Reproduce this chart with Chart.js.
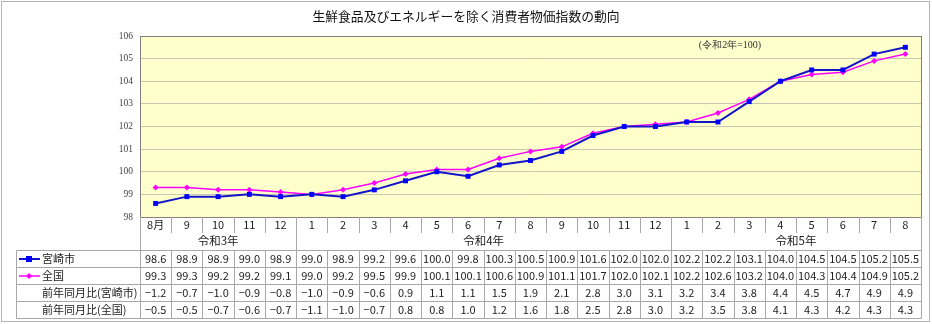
<!DOCTYPE html>
<html>
<head>
<meta charset="utf-8">
<script src="https://cdn.jsdelivr.net/npm/chart.js@4.4.0/dist/chart.umd.min.js"></script>
<style>
  body { margin: 0; background: #fff; }
  canvas { display: block; }
</style>
</head>
<body>
<canvas id="cpiChart" width="932" height="324"></canvas>
<script>
const chartTitle = '生鮮食品及びエネルギーを除く消費者物価指数の動向';
const baseNote = '(令和2年=100)';

const months = ['8月', '9', '10', '11', '12', '1', '2', '3', '4', '5', '6', '7', '8', '9', '10', '11', '12',
    '1', '2', '3', '4', '5', '6', '7', '8'];
const yearLabels = ['令和3年', '令和4年', '令和5年'];
const yearStart = [0, 5, 17];
const yearEnd = [4, 16, 24];

const miyazaki = [98.6, 98.9, 98.9, 99.0, 98.9, 99.0, 98.9, 99.2, 99.6, 100.0, 99.8, 100.3, 100.5,
    100.9, 101.6, 102.0, 102.0, 102.2, 102.2, 103.1, 104.0, 104.5, 104.5, 105.2, 105.5];
const zenkoku = [99.3, 99.3, 99.2, 99.2, 99.1, 99.0, 99.2, 99.5, 99.9, 100.1, 100.1, 100.6, 100.9,
    101.1, 101.7, 102.0, 102.1, 102.2, 102.6, 103.2, 104.0, 104.3, 104.4, 104.9, 105.2];
const yoyMiyazaki = [-1.2, -0.7, -1.0, -0.9, -0.8, -1.0, -0.9, -0.6, 0.9, 1.1, 1.1, 1.5, 1.9,
    2.1, 2.8, 3.0, 3.1, 3.2, 3.4, 3.8, 4.4, 4.5, 4.7, 4.9, 4.9];
const yoyZenkoku = [-0.5, -0.5, -0.7, -0.6, -0.7, -1.1, -1.0, -0.7, 0.8, 0.8, 1.0, 1.2, 1.6,
    1.8, 2.5, 2.8, 3.0, 3.2, 3.5, 3.8, 4.1, 4.3, 4.2, 4.3, 4.3];

const rowLabels = ['宮崎市', '全国', '前年同月比(宮崎市)', '前年同月比(全国)'];
const rowData = [miyazaki, zenkoku, yoyMiyazaki, yoyZenkoku];

const BLUE_LINE = '#1414c8';
const BLUE_MARK = '#0000ff';
const MAGENTA = '#ff00ff';
const GRID_TABLE = '#a8a8a8';
const SANS = '"Noto Sans CJK JP", "Noto Sans", sans-serif';

function fmt(v) {
    return v.toFixed(1).replace('-', '\u2212');
}

// background + border of plot, frame around the picture
const framePlugin = {
    id: 'frame',
    beforeDraw(chart) {
        const { ctx, chartArea: a } = chart;
        ctx.save();
        ctx.fillStyle = '#ffffcc';
        ctx.fillRect(a.left, a.top, a.right - a.left, a.bottom - a.top);
        ctx.restore();
    },
    afterDraw(chart) {
        const { ctx, chartArea: a } = chart;
        ctx.save();
        ctx.strokeStyle = '#808080';
        ctx.lineWidth = 1;
        ctx.strokeRect(a.left + 0.5, a.top + 0.5, a.right - a.left, a.bottom - a.top);
        ctx.strokeStyle = '#b4b4b4';
        ctx.strokeRect(1.5, 1.5, 928, 320);

        // title
        ctx.fillStyle = '#111';
        ctx.font = '12.8px ' + SANS;
        ctx.textAlign = 'center';
        ctx.textBaseline = 'middle';
        ctx.fillText(chartTitle, 466, 16);

        // base year note
        ctx.fillStyle = '#333';
        ctx.font = '10px "Liberation Serif", serif';
        ctx.fillText(baseNote, 730, 45);
        ctx.restore();
    }
};

// data table under the plot, columns taken from the x scale
const tablePlugin = {
    id: 'dataTable',
    afterDraw(chart) {
        const { ctx, chartArea: a } = chart;
        const x = chart.scales.x;
        const n = months.length;
        const step = (a.right - a.left) / n;
        const edge = i => Math.round(x.getPixelForValue(i) - step / 2) + 0.5;
        const tableLeft = 16.5;
        const monthBottom = 233;
        const rowTop = 249.5;
        const rowH = 17.2;
        const rowsY = [0, 1, 2, 3, 4].map(k => Math.round(rowTop + k * rowH) + 0.5);

        ctx.save();
        ctx.strokeStyle = GRID_TABLE;
        ctx.lineWidth = 1;
        ctx.beginPath();
        // month row separators
        for (let i = 1; i < n; i++) {
            const ex = edge(i);
            const isGroup = yearStart.includes(i);
            ctx.moveTo(ex, a.bottom);
            ctx.lineTo(ex, isGroup ? rowsY[4] : monthBottom);
            if (!isGroup) {
                ctx.moveTo(ex, rowsY[0]);
                ctx.lineTo(ex, rowsY[4]);
            }
        }
        // left edge of table body under plot, right edge
        ctx.moveTo(a.left + 0.5, a.bottom);
        ctx.lineTo(a.left + 0.5, rowsY[4]);
        ctx.moveTo(a.right + 0.5, a.bottom);
        ctx.lineTo(a.right + 0.5, rowsY[4]);
        ctx.moveTo(tableLeft, rowsY[0]);
        ctx.lineTo(tableLeft, rowsY[4]);
        rowsY.forEach(y => {
            ctx.moveTo(tableLeft, y);
            ctx.lineTo(a.right + 0.5, y);
        });
        ctx.stroke();

        ctx.textAlign = 'center';
        ctx.textBaseline = 'middle';
        ctx.fillStyle = '#222';
        ctx.font = '11px ' + SANS;
        months.forEach((m, i) => ctx.fillText(m, x.getPixelForValue(i), 225));

        ctx.font = '11.5px ' + SANS;
        yearLabels.forEach((lab, k) => {
            const cx = (x.getPixelForValue(yearStart[k]) + x.getPixelForValue(yearEnd[k])) / 2;
            ctx.fillText(lab, cx, 241);
        });

        ctx.font = '11px ' + SANS;
        rowData.forEach((vals, r) => {
            const cy = (rowsY[r] + rowsY[r + 1]) / 2;
            vals.forEach((v, i) => ctx.fillText(fmt(v), x.getPixelForValue(i), cy));
        });

        // row headers
        ctx.textAlign = 'left';
        ctx.font = '11px ' + SANS;
        rowLabels.forEach((lab, r) => {
            const cy = (rowsY[r] + rowsY[r + 1]) / 2;
            ctx.fillText(lab, 42, cy);
        });

        // legend keys
        const keyY0 = (rowsY[0] + rowsY[1]) / 2;
        const keyY1 = (rowsY[1] + rowsY[2]) / 2;
        ctx.lineWidth = 2;
        ctx.strokeStyle = BLUE_LINE;
        ctx.beginPath();
        ctx.moveTo(19, keyY0);
        ctx.lineTo(40, keyY0);
        ctx.stroke();
        ctx.fillStyle = BLUE_MARK;
        ctx.fillRect(26, keyY0 - 3, 6, 6);
        ctx.lineWidth = 1.5;
        ctx.strokeStyle = MAGENTA;
        ctx.beginPath();
        ctx.moveTo(19, keyY1);
        ctx.lineTo(40, keyY1);
        ctx.stroke();
        ctx.fillStyle = MAGENTA;
        ctx.beginPath();
        ctx.moveTo(29, keyY1 - 3);
        ctx.lineTo(32, keyY1);
        ctx.lineTo(29, keyY1 + 3);
        ctx.lineTo(26, keyY1);
        ctx.closePath();
        ctx.fill();
        ctx.restore();
    }
};

const ctx = document.getElementById('cpiChart').getContext('2d');
new Chart(ctx, {
    type: 'line',
    data: {
        labels: months,
        datasets: [
            {
                label: '宮崎市', data: miyazaki, borderColor: BLUE_LINE, borderWidth: 2,
                pointStyle: 'rect', pointRadius: 3.5, pointBackgroundColor: BLUE_MARK,
                pointBorderColor: BLUE_MARK, pointBorderWidth: 0, tension: 0
            },
            {
                label: '全国', data: zenkoku, borderColor: MAGENTA, borderWidth: 1.5,
                pointStyle: 'rectRot', pointRadius: 3, pointBackgroundColor: MAGENTA,
                pointBorderColor: MAGENTA, pointBorderWidth: 0, tension: 0
            }
        ]
    },
    options: {
        responsive: false,
        animation: false,
        layout: { padding: { left: 0, top: 36, right: 11, bottom: 107 } },
        plugins: {
            legend: { display: false },
            title: { display: false },
            tooltip: { enabled: false }
        },
        scales: {
            x: { display: false, offset: true },
            y: {
                min: 98, max: 106,
                afterFit(scale) { scale.width = 140; },
                border: { display: false },
                grid: { color: '#c8c8b4', drawTicks: false },
                ticks: {
                    stepSize: 1, padding: 7, color: '#444',
                    font: { family: '"Liberation Serif", serif', size: 9.5 }
                }
            }
        }
    },
    plugins: [framePlugin, tablePlugin]
});
</script>
</body>
</html>
